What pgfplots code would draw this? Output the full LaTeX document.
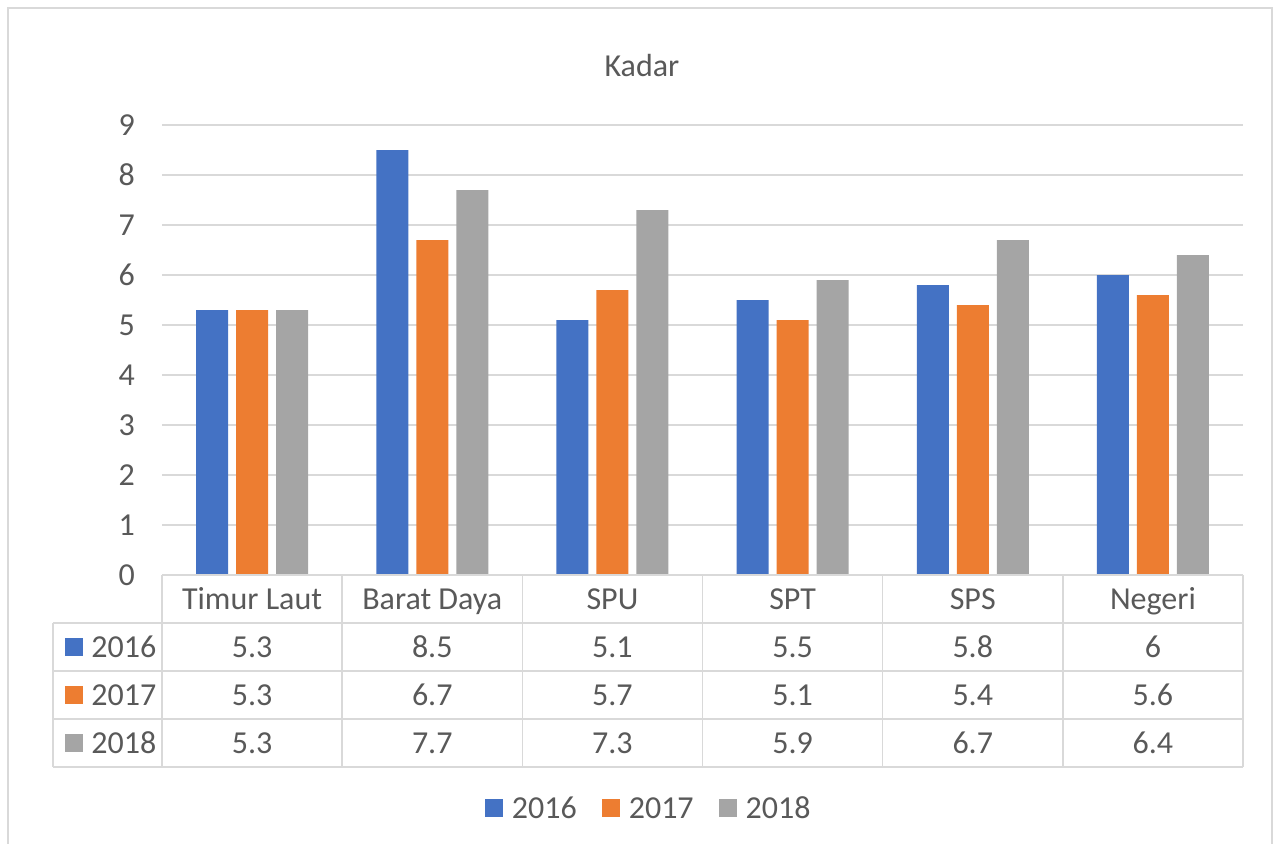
\documentclass[border=0pt]{standalone}
\usepackage{pgfplots}
\pgfplotsset{compat=1.18}
\usepackage{pgfplotstable}
\usepackage{fontspec}
\setmainfont{Carlito}
\definecolor{cA}{HTML}{4472C4}
\definecolor{cB}{HTML}{ED7D31}
\definecolor{cC}{HTML}{A5A5A5}
\definecolor{gridc}{HTML}{D9D9D9}
\definecolor{txt}{HTML}{595959}
\newcommand\fs{\fontsize{16}{19}\selectfont}
\pgfplotstableread{
x y16 y17 y18
0 5.3 5.3 5.3
1 8.5 6.7 7.7
2 5.1 5.7 7.3
3 5.5 5.1 5.9
4 5.8 5.4 6.7
5 6.0 5.6 6.4
}\datatable
\begin{document}
\begin{tikzpicture}
\useasboundingbox (0pt,0pt) rectangle (637pt,-421.5pt);
\begin{scope}[x=0.5pt,y=-0.5pt]
\begin{scope}
\clip (0,0) rectangle (1274,843);
\draw[gridc, line width=1pt] (8,860) -- (8,8) -- (1272,8) -- (1272,860);
\end{scope}
\end{scope}
\begin{axis}[
  at={(81pt,-287.5pt)}, anchor=south west,
  scale only axis, width=540.5pt, height=225pt,
  xmin=-0.5, xmax=5.5, ymin=0, ymax=9,
  enlargelimits=false,
  axis line style={draw=none},
  xtick=\empty,
  ytick={0,1,...,9},
  ymajorgrids, grid style={gridc, line width=0.75pt},
  major tick length=0pt,
  yticklabel style={font=\fs, text=txt, xshift=-10pt},
  /pgf/number format/assume math mode=true,
  ybar=4pt, bar width=16pt,
  clip=false,
  legend columns=3,
  legend style={at={(0.4535,-0.5156)}, anchor=center, draw=none, fill=none,
    font=\fs, text=txt,
    nodes={text height=11pt, text depth=0pt, inner xsep=4.5pt},
    /tikz/every even column/.append style={column sep=8pt}},
  legend image code/.code={\fill[#1] (0pt,-5pt) rectangle (9pt,4pt);},
  title={Kadar},
  title style={font=\fs, text=txt, at={(0.444,1.1066)}, anchor=center, yshift=0pt},
]
\addplot[fill=cA, draw=none] table[x=x, y=y16] {\datatable};
\addplot[fill=cB, draw=none] table[x=x, y=y17] {\datatable};
\addplot[fill=cC, draw=none] table[x=x, y=y18] {\datatable};
\legend{2016,2017,2018}
\end{axis}
\begin{scope}[x=0.5pt,y=-0.5pt]
\draw[gridc, line width=0.75pt] (162,575) -- (1243,575);
\foreach \yy in {623,671,719,767} \draw[gridc, line width=0.75pt] (53,\yy) -- (1243,\yy);
\draw[gridc, line width=0.75pt] (53,623) -- (53,767);
\foreach \k in {0,...,6} \draw[gridc, line width=0.75pt] ({162+\k*180.17},575) -- ({162+\k*180.17},767);
\begin{scope}[every node/.style={font=\fs, text=txt, inner sep=0pt, text height=11pt, text depth=0pt}]
\foreach \lab [count=\i from 0] in {Timur Laut,Barat Daya,SPU,SPT,SPS,Negeri}
  \node at ({162+(\i+0.5)*180.17},598) {\lab};
\foreach \lab [count=\i from 0] in {5.3,8.5,5.1,5.5,5.8,6}
  \node at ({162+(\i+0.5)*180.17},646) {\lab};
\foreach \lab [count=\i from 0] in {5.3,6.7,5.7,5.1,5.4,5.6}
  \node at ({162+(\i+0.5)*180.17},694) {\lab};
\foreach \lab [count=\i from 0] in {5.3,7.7,7.3,5.9,6.7,6.4}
  \node at ({162+(\i+0.5)*180.17},742) {\lab};
\fill[cA] (65,638) rectangle (83,656);
\fill[cB] (65,686) rectangle (83,704);
\fill[cC] (65,734) rectangle (83,752);
\node[anchor=west] at (91,646) {2016};
\node[anchor=west] at (91,694) {2017};
\node[anchor=west] at (91,742) {2018};
\end{scope}
\end{scope}
\end{tikzpicture}
\end{document}
